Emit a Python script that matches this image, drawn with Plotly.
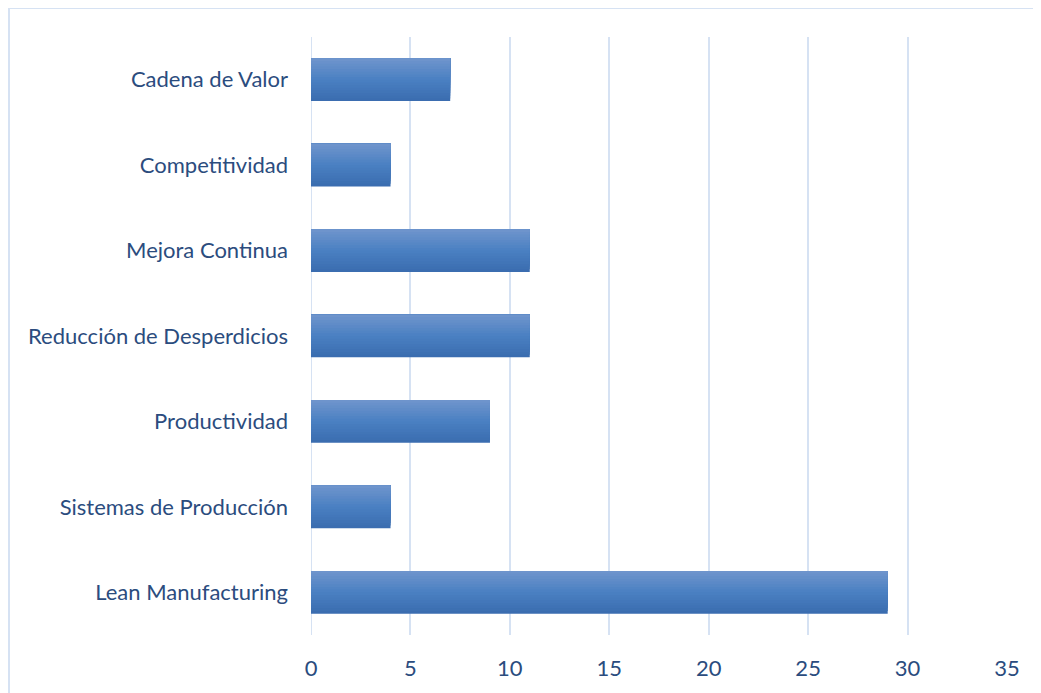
import plotly.graph_objects as go

categories = ["Lean Manufacturing", "Sistemas de Producción", "Productividad",
              "Reducción de Desperdicios", "Mejora Continua", "Competitividad",
              "Cadena de Valor"]
values = [29, 4, 9, 11, 11, 4, 7]
x_ticks = [0, 5, 10, 15, 20, 25, 30, 35]

# page body has an 8px default margin, so the figure is drawn 8px in
OFF = 8
W, H = 1041 - OFF, 693 - OFF
L, R, T, B = 311 - OFF, 34, 37 - OFF, 58
PW, PH = W - L - R, H - T - B

fig = go.Figure()

# vertical gradient bars: stacked overlaid bars, each narrower toward the top
n = 16
top = (0x6e, 0x94, 0xcc)
mid = (0x4a, 0x80, 0xc2)
bot = (0x3b, 0x6d, 0xb0)
bar_w = 0.5
band = bar_w / n
for i in range(n):
    t = i / (n - 1)
    if t < 0.5:
        a, b_, u = bot, mid, t / 0.5
    else:
        a, b_, u = mid, top, (t - 0.5) / 0.5
    c = tuple(int(round(a[k] + (b_[k] - a[k]) * u)) for k in range(3))
    fig.add_trace(go.Bar(
        y=list(range(len(categories))), x=values, orientation="h",
        width=bar_w - i * band, offset=-bar_w / 2 + i * band,
        marker=dict(color="rgb(%d,%d,%d)" % c, line=dict(width=0)),
        showlegend=False, hoverinfo="x" if i == 0 else "skip",
    ))

bx0 = (9 - OFF - L) / PW
by1 = 1 + (T - (8 - OFF)) / PH
border = dict(color="#d6e2f3", width=2)
fig.update_layout(
    width=W, height=H,
    margin=dict(l=L, r=R, t=T, b=B),
    paper_bgcolor="white", plot_bgcolor="white",
    barmode="overlay",
    font=dict(family="Lato, Open Sans, sans-serif", size=22, color="#2b4c7e"),
    xaxis=dict(range=[0, 35], tickvals=x_ticks, showgrid=True,
               gridcolor="#d6e2f3", gridwidth=2, zeroline=False,
               showline=False, ticks="", ticklabelstandoff=18),
    yaxis=dict(tickvals=list(range(len(categories))), ticktext=categories,
               range=[-0.5, len(categories) - 0.5], showgrid=False,
               zeroline=False, showline=False, ticks="", ticklabelstandoff=22),
    shapes=[
        dict(type="line", xref="paper", yref="paper", x0=bx0, x1=(W + 20 - L) / PW,
             y0=by1, y1=by1, line=border, layer="below"),
        dict(type="line", xref="paper", yref="paper", x0=bx0, x1=bx0,
             y0=-(B + 20) / PH, y1=by1, line=border, layer="below"),
    ],
)
fig.add_shape(type="line", xref="x", yref="paper", x0=0, x1=0, y0=0, y1=1,
              line=dict(color="#d6e2f3", width=2), layer="below")

fig.write_html("out.html")
